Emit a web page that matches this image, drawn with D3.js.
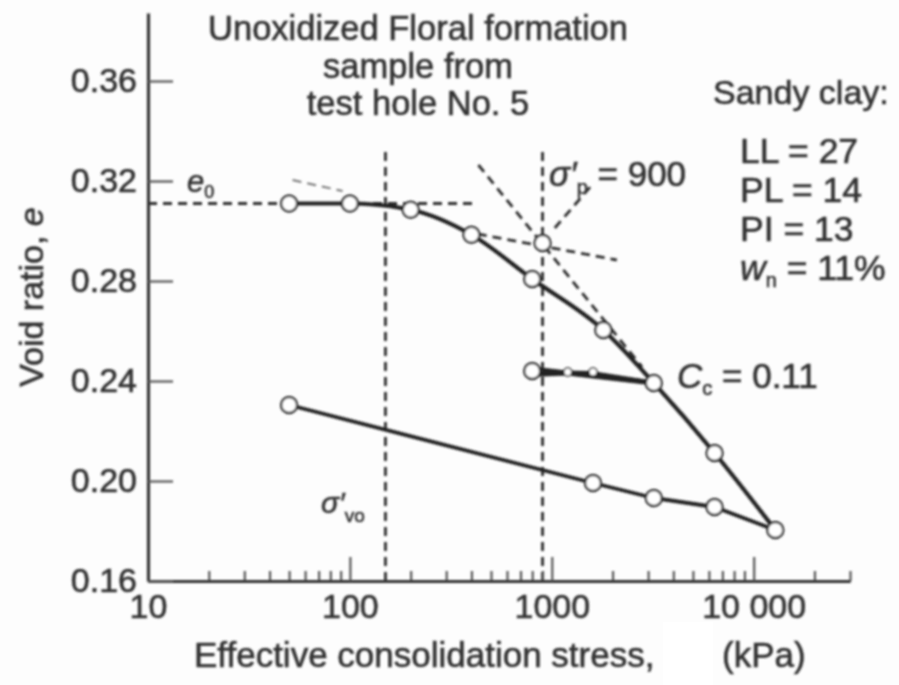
<!DOCTYPE html>
<html>
<head>
<meta charset="utf-8">
<script src="https://cdn.jsdelivr.net/npm/d3@7"></script>
<style>
  html, body { margin: 0; padding: 0; background: #ffffff; }
  svg { display: block; }
  text { font-family: "Liberation Sans", Arial, Helvetica, sans-serif; fill: #333; stroke: #333; stroke-width: 0.6px; }
</style>
</head>
<body>
<svg id="chart" width="899" height="685"></svg>
<script>
// ---- Oedometer test: void ratio vs effective consolidation stress (kPa) ----

// Loading (virgin) branch
const loadStress = [50, 100, 200, 400, 800, 1800, 3200, 6400, 12800];
const loadVoid   = [0.311, 0.311, 0.3085, 0.2985, 0.2808, 0.2604, 0.2392, 0.2112, 0.1804];

// Final unloading branch
const unloadStress = [12800, 6400, 3200, 1600, 50];
const unloadVoid   = [0.1804, 0.1896, 0.1932, 0.1992, 0.2304];

// Unload-reload loop from 3200 kPa
const loopUnloadStress = [3200, 800];
const loopUnloadVoid   = [0.2392, 0.2448];
const loopReloadStress = [800, 1200, 1600, 3200];
const loopReloadVoid   = [0.2426, 0.2432, 0.2430, 0.2392];
const loopStartStress  = [800];
const loopStartVoid    = [0.2440];
const loopMidStress    = [1200, 1600];
const loopMidVoid      = [0.2436, 0.2436];

// Casagrande construction
const e0Level       = 0.311;
const e0LineStress  = [10, 412];
const sigmaVo       = 150;
const sigmaP        = 900;
const sigmaPVoid    = 0.2952;
const verticalVoid  = [0.16, 0.333];
const virginExtStress = [433, 2800];
const virginExtVoid   = [0.3264, 0.2456];
const bisectStress  = [430, 2100];
const bisectVoid    = [0.2988, 0.2884];
const leaderStress  = [1035, 1580];
const leaderVoid    = [0.3012, 0.3184];
const sketchStress  = [52, 92];
const sketchVoid    = [0.3204, 0.3160];

// Axes
const xMajorTicks  = [10, 100, 1000, 10000];
const xTickLabels  = ["10", "100", "1000", "10 000"];
const yTicks       = [0.16, 0.20, 0.24, 0.28, 0.32, 0.36];

// Text
const titleLines   = ["Unoxidized Floral formation", "sample from", "test hole No. 5"];
const soilName     = "Sandy clay:";
const soilProps    = [
  { name: "LL", sub: "", value: "= 27" },
  { name: "PL", sub: "", value: "= 14" },
  { name: "PI", sub: "", value: "= 13" },
  { name: "w",  sub: "n", value: "= 11%" }
];
const ccLabel      = "= 0.11";

// ---------------------------------------------------------------------------
const svg = d3.select("#chart");

const defs = svg.append("defs");
defs.append("filter").attr("id", "soft")
  .attr("x", "-5%").attr("y", "-5%").attr("width", "110%").attr("height", "110%")
  .append("feGaussianBlur").attr("stdDeviation", 1.0);

svg.append("rect").attr("width", 899).attr("height", 685).attr("fill", "#fdfdfd");

const g = svg.append("g").attr("filter", "url(#soft)");

const x = d3.scaleLog().domain([10, 30000]).range([148, 850]);
const y = d3.scaleLinear().domain([0.16, 0.3872]).range([581, 13]);

const ink = "#222";
const dash = "9,6";

const toPts = (xs, ys) => xs.map((s, i) => [x(s), y(ys[i])]);
const line = d3.line();
const smooth = d3.line().curve(d3.curveMonotoneX);

// ---- construction lines (dashed) ----
const cons = g.append("g").attr("fill", "none").attr("stroke", "#2e2e2e")
  .attr("stroke-width", 2.8).attr("stroke-dasharray", dash);

cons.append("path").attr("d", line(toPts(e0LineStress, [e0Level, e0Level])));
cons.append("path").attr("d", line(toPts([sigmaVo, sigmaVo], verticalVoid)));
cons.append("path").attr("d", line(toPts([sigmaP, sigmaP], verticalVoid)));
cons.append("path").attr("d", line(toPts(virginExtStress, virginExtVoid)));
cons.append("path").attr("d", line(toPts(bisectStress, bisectVoid)));
cons.append("path").attr("d", line(toPts(leaderStress, leaderVoid)));
cons.append("path").attr("d", line(toPts(sketchStress, sketchVoid)))
  .attr("stroke", "#777").attr("stroke-width", 2);

// ---- axes ----
const minorTicks = [];
[10, 100, 1000, 10000].forEach(d => {
  for (let k = 2; k <= 9; k++) { const v = d * k; if (v <= 30000) minorTicks.push(v); }
});

const xMinor = d3.axisBottom(x).tickValues(minorTicks).tickSize(-10).tickSizeOuter(0).tickFormat("");
const xAxis = d3.axisBottom(x).tickValues(xMajorTicks).tickSize(-24).tickSizeOuter(0)
  .tickPadding(13).tickFormat((d, i) => xTickLabels[i]);
const yAxis = d3.axisLeft(y).tickValues(yTicks).tickSize(-25).tickSizeOuter(0)
  .tickPadding(11).tickFormat(d3.format(".2f"));

const gxMinor = g.append("g").attr("transform", "translate(0,581)").call(xMinor);
const gx = g.append("g").attr("transform", "translate(0,581)").call(xAxis);
const gy = g.append("g").attr("transform", "translate(148,0)").call(yAxis);

[gxMinor, gx, gy].forEach(a => {
  a.select(".domain").attr("stroke", "#333").attr("stroke-width", 3.2);
  a.selectAll(".tick line").attr("stroke", "#555").attr("stroke-width", 2.2);
  a.selectAll("text").attr("fill", "#333").attr("font-size", 34)
    .attr("font-family", "'Liberation Sans', Arial, sans-serif");
});

// ---- data curves ----
const curves = g.append("g").attr("fill", "none").attr("stroke", ink)
  .attr("stroke-width", 4.2).attr("stroke-linejoin", "round");

curves.append("path").attr("d", smooth(toPts(loadStress, loadVoid)));
curves.append("path").attr("d", line(toPts(unloadStress, unloadVoid))).attr("stroke-width", 3.8);
curves.append("path").attr("d", line(toPts(loopUnloadStress, loopUnloadVoid))).attr("stroke-width", 4.8);
curves.append("path").attr("d", line(toPts(loopReloadStress, loopReloadVoid))).attr("stroke-width", 4.8);

// ---- markers ----
const marks = g.append("g").attr("fill", "#fff").attr("stroke", "#333").attr("stroke-width", 2.4);
const circ = (xs, ys, r) => marks.selectAll(null).data(xs.map((s, i) => [s, ys[i]]))
  .join("circle").attr("cx", d => x(d[0])).attr("cy", d => y(d[1])).attr("r", r);

circ(loadStress, loadVoid, 8);
circ(unloadStress.slice(1), unloadVoid.slice(1), 8);
circ(loopStartStress, loopStartVoid, 8);
circ(loopMidStress, loopMidVoid, 4).attr("stroke-width", 1.6);
circ([sigmaP], [sigmaPVoid], 8);

// ---- text ----
// title
const title = g.append("text").attr("text-anchor", "middle").attr("font-size", 34.5);
titleLines.forEach((t, i) => {
  title.append("tspan").attr("x", 418).attr("y", 40 + i * 37.5).text(t);
});

// soil properties
g.append("text").attr("x", 713).attr("y", 104).attr("font-size", 34).text(soilName);
soilProps.forEach((p, i) => {
  const t = g.append("text").attr("x", 740).attr("y", 163 + i * 39).attr("font-size", 35.5);
  if (p.sub) {
    t.append("tspan").attr("font-style", "italic").text(p.name);
    t.append("tspan").attr("font-size", 20).attr("dy", 7).text(p.sub);
    t.append("tspan").attr("dy", -7).text(" " + p.value);
  } else {
    t.append("tspan").text(p.name + " " + p.value);
  }
});

// e0
const e0t = g.append("text").attr("x", 187).attr("y", 192).attr("font-size", 31);
e0t.append("tspan").attr("font-style", "italic").text("e");
e0t.append("tspan").attr("font-size", 18).attr("dy", 6).text("0");

// sigma'vo
const svo = g.append("text").attr("x", 321).attr("y", 513).attr("font-size", 30);
svo.append("tspan").attr("font-style", "italic").text("σ′");
svo.append("tspan").attr("font-size", 19).attr("dy", 9).text("vo");

// sigma'p = 900
const sp = g.append("text").attr("x", 549).attr("y", 186).attr("font-size", 35);
sp.append("tspan").attr("font-style", "italic").text("σ′");
sp.append("tspan").attr("font-size", 20).attr("dy", 8).text("p");
sp.append("tspan").attr("dy", -8).text(" = 900");

// Cc
const cc = g.append("text").attr("x", 677).attr("y", 388).attr("font-size", 35);
cc.append("tspan").attr("font-style", "italic").text("C");
cc.append("tspan").attr("font-size", 20).attr("dy", 7).text("c");
cc.append("tspan").attr("dy", -7).text(" " + ccLabel);

// axis titles
const yt = g.append("text").attr("transform", "translate(43,297) rotate(-90)")
  .attr("text-anchor", "middle").attr("font-size", 34);
yt.append("tspan").text("Void ratio, ");
yt.append("tspan").attr("font-style", "italic").text("e");

g.append("text").attr("x", 194).attr("y", 667).attr("font-size", 35)
  .text("Effective consolidation stress,");
g.append("text").attr("x", 722).attr("y", 667).attr("font-size", 35).text("(kPa)");
svg.append("rect").attr("x", 663).attr("y", 622).attr("width", 50).attr("height", 63).attr("fill", "#ffffff");
</script>
</body>
</html>
